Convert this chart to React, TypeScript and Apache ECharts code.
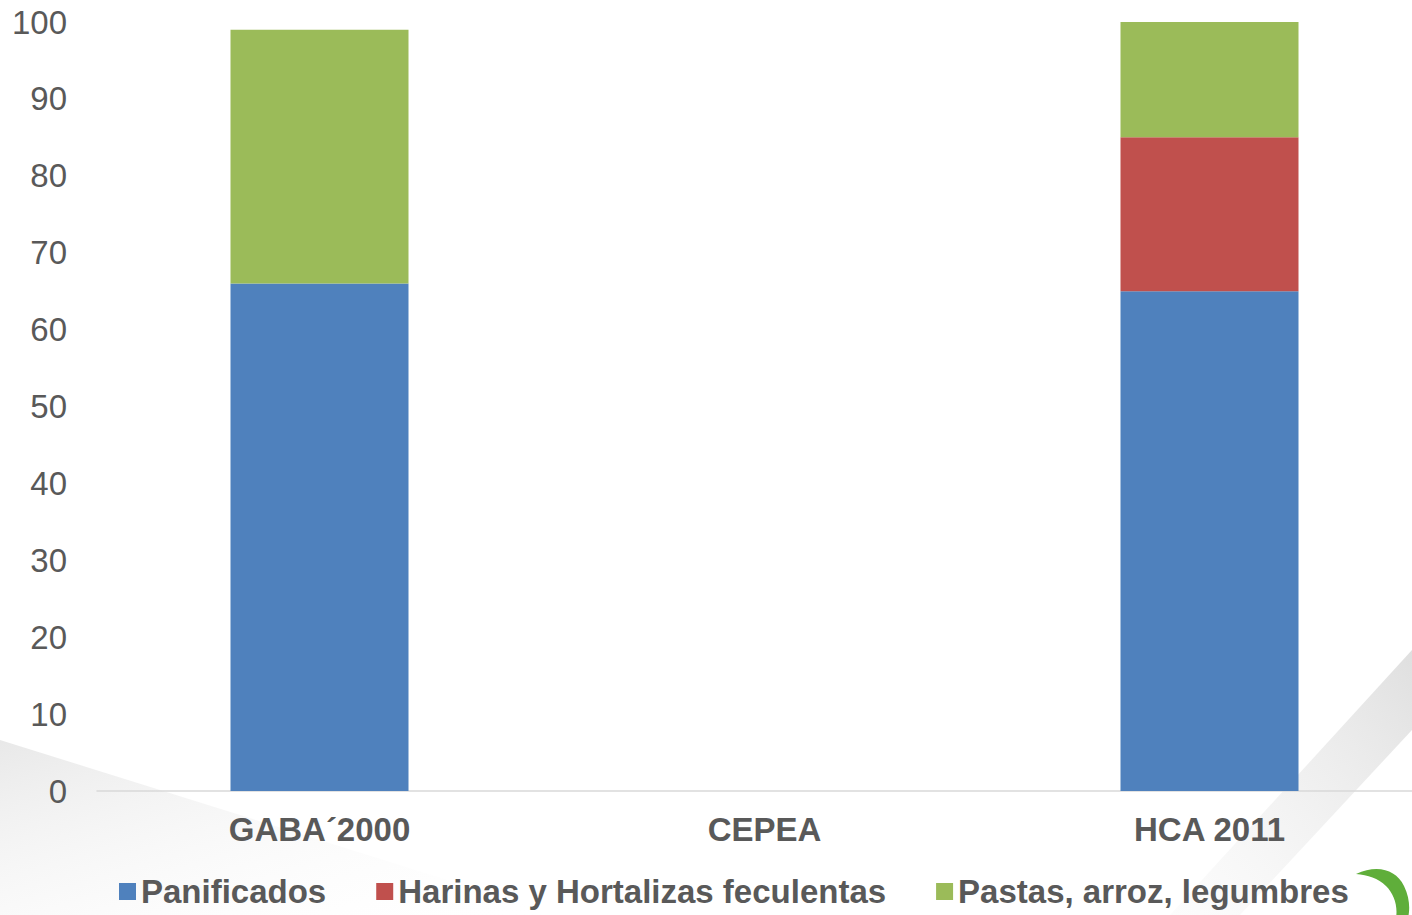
import React, { useEffect, useRef } from "react";
import * as echarts from "echarts";

const categories = ["GABA´2000", "CEPEA", "HCA 2011"];
const panificados = [66, null, 65];
const harinas = [null, null, 20];
const pastas = [33, null, 15];
const yTicks = { min: 0, max: 100, interval: 10 };

const TEXT = "#595959";
const FONT = "'Liberation Sans', Arial, sans-serif";

// Decorative leaf swoosh in the bottom-right corner
echarts.graphic.registerShape(
  "leaf",
  echarts.graphic.extendPath(
    "M0 6 C22 -4 40 2 48 18 C54 30 54 42 52 50 L40 50 C42 38 38 26 30 18 C22 10 12 7 0 6 Z",
    {}
  )
);

export default function App() {
  const ref = useRef<HTMLDivElement>(null);

  useEffect(() => {
    if (!ref.current) return;
    const chart = echarts.init(ref.current, undefined, { renderer: "svg" });
    const series = [
      { name: "Panificados", data: panificados, color: "#4F81BD" },
      { name: "Harinas y Hortalizas feculentas", data: harinas, color: "#C0504D" },
      { name: "Pastas, arroz, legumbres", data: pastas, color: "#9BBB59" },
    ].map((s) => ({
      name: s.name,
      type: "bar" as const,
      stack: "total",
      data: s.data,
      barWidth: 178,
      itemStyle: { color: s.color },
    }));

    chart.setOption({
      animation: false,
      backgroundColor: "#ffffff",
      graphic: [
        {
          type: "polygon",
          silent: true,
          z: -10,
          shape: { points: [[0, 740], [560, 915], [0, 915]] },
          style: {
            fill: new echarts.graphic.LinearGradient(0, 0, 1, 1, [
              { offset: 0, color: "rgba(225,225,225,0.75)" },
              { offset: 1, color: "rgba(255,255,255,0)" },
            ]),
          },
        },
        {
          type: "polygon",
          silent: true,
          z: -10,
          shape: { points: [[1412, 650], [1412, 730], [1240, 915], [1170, 915]] },
          style: {
            fill: new echarts.graphic.LinearGradient(1, 0, 0, 1, [
              { offset: 0, color: "rgba(215,215,215,0.8)" },
              { offset: 1, color: "rgba(245,245,245,0.3)" },
            ]),
          },
        },
        {
          type: "leaf",
          silent: true,
          x: 1356,
          y: 868,
          scaleX: 1,
          scaleY: 1,
          style: { fill: "#5FAE3A" },
        },
      ],
      grid: {
        left: 97,
        width: 1335,
        top: 22,
        bottom: 124,
        containLabel: false,
        outerBoundsMode: "none",
      },
      legend: {
        bottom: 2,
        left: 114,
        itemWidth: 17,
        itemHeight: 17,
        itemGap: 50,
        icon: "rect",
        textStyle: { color: TEXT, fontSize: 33, fontWeight: "bold", fontFamily: FONT },
        data: series.map((s) => s.name),
      },
      xAxis: {
        type: "category",
        data: categories,
        axisLine: { lineStyle: { color: "#d9d9d9", width: 1.5 } },
        axisTick: { show: false },
        axisLabel: {
          color: TEXT,
          fontSize: 33,
          fontWeight: "bold",
          fontFamily: FONT,
          margin: 22,
        },
      },
      yAxis: {
        type: "value",
        min: yTicks.min,
        max: yTicks.max,
        interval: yTicks.interval,
        splitLine: { show: false },
        axisLine: { show: false },
        axisTick: { show: false },
        axisLabel: { color: TEXT, fontSize: 33, fontFamily: FONT, margin: 30 },
      },
      series,
    });
    return () => chart.dispose();
  }, []);

  return (
    <div
      ref={ref}
      style={{ position: "fixed", left: 0, top: 0, width: 1412, height: 915 }}
    />
  );
}
